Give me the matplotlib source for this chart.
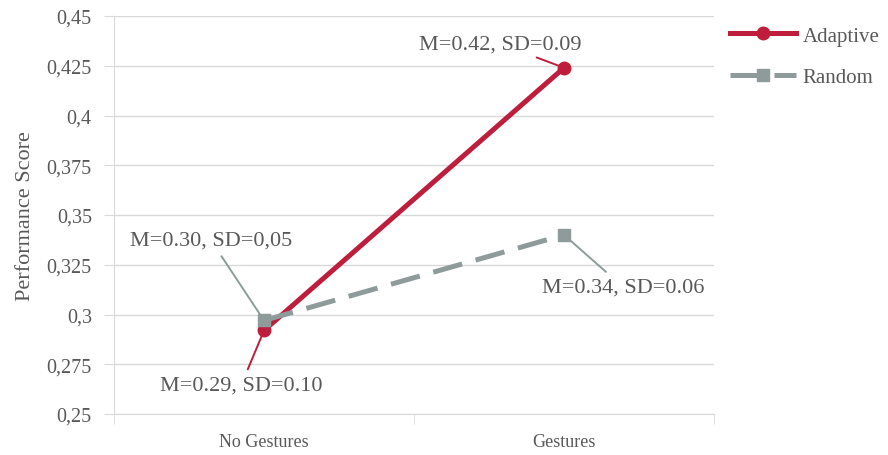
import matplotlib.pyplot as plt
from matplotlib.ticker import FuncFormatter, MultipleLocator

plt.rcParams['font.family'] = ['Liberation Serif', 'DejaVu Serif']

conditions = ['No Gestures', 'Gestures']
adaptive = [0.292, 0.424]
random_ = [0.297, 0.340]
adaptive_sd = ['0.10', '0.09']
random_sd = ['0,05', '0.06']

red = '#BE1E3C'
grey = '#8F9B9B'
txt = '#595959'
grid = '#D9D9D9'

fig = plt.figure(figsize=(8.88, 4.56), dpi=100)
ax = fig.add_axes([0.1284, 0.0899, 0.6757, 0.8728])

x = range(len(conditions))
ax.plot(x, adaptive, color=red, lw=3.6, marker='o', ms=9, label='Adaptive', zorder=3)
ax.plot(x, random_, color=grey, lw=3.6, ls=(0, (6, 2.8)), marker='s', ms=9,
        label='Random', zorder=3)

ax.set_xlim(-0.5, 1.5)
ax.set_ylim(0.25, 0.45)
ax.yaxis.set_major_locator(MultipleLocator(0.025))
ax.yaxis.set_major_formatter(FuncFormatter(lambda v, p: f'{round(v, 3):g}'.replace('.', ',')))
ax.set_xticks(list(x))
ax.set_xticklabels(conditions)
ax.set_xticks([-0.5, 0.5, 1.5], minor=True)
ax.tick_params(axis='x', which='major', length=0, pad=14, labelsize=13, labelcolor=txt)
ax.tick_params(axis='x', which='minor', length=7, color=grid, direction='out')
ax.tick_params(axis='y', length=7, color=grid, labelsize=14.5, labelcolor=txt, pad=9)
ax.grid(axis='y', color=grid, lw=1)
ax.set_axisbelow(True)
for s in ['top', 'right']:
    ax.spines[s].set_visible(False)
ax.spines['left'].set_color(grid)
ax.spines['bottom'].set_color(grid)
ax.set_ylabel('Performance Score', fontsize=16, color=txt, labelpad=8)

# value callouts with leader lines
callouts = [
    (0, adaptive[0], adaptive_sd[0], red, (-23, -55)),
    (1, adaptive[1], adaptive_sd[1], red, (-64, 24)),
    (0, random_[0], random_sd[0], grey, (-53, 80)),
    (1, random_[1], random_sd[1], grey, (59, -52)),
]
for xi, v, sd, c, off in callouts:
    ax.annotate(f'M={v:.2f}, SD={sd}', xy=(xi, v), xytext=off, textcoords='offset pixels',
                ha='center', va='center', fontsize=16, color=txt,
                arrowprops=dict(arrowstyle='-', color=c, lw=1.4, shrinkA=3, shrinkB=0),
                zorder=4)

leg = ax.legend(loc='upper left', bbox_to_anchor=(0.995, 1.022), frameon=False,
                fontsize=15, handlelength=3.2, handletextpad=0.3, labelspacing=1.05,
                labelcolor=txt)

fig.savefig('out.png', dpi=100)
